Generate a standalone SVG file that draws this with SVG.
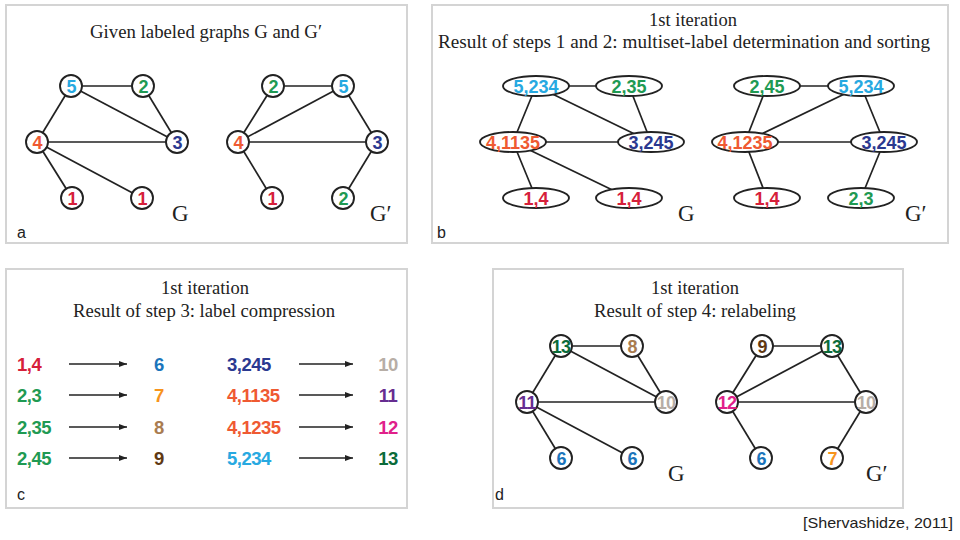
<svg xmlns="http://www.w3.org/2000/svg" width="960" height="540" viewBox="0 0 960 540">
<defs>
<marker id="ah" viewBox="0 0 8 6" refX="8" refY="3" markerWidth="8" markerHeight="6" markerUnits="userSpaceOnUse" orient="auto"><path d="M0,0 L8,3 L0,6 z" fill="#222"/></marker>
</defs>
<style>
.panel{fill:#fff;stroke:#d4d4d4;stroke-width:2}
.title{font-family:"Liberation Serif","Times New Roman",serif;font-size:18.5px;fill:#222;text-anchor:middle}
.gl{font-family:"Liberation Serif","Times New Roman",serif;font-size:23px;fill:#222}
.pl{font-family:"Liberation Sans",Arial,sans-serif;font-size:16px;fill:#222}
.edge{stroke:#222;stroke-width:1.7;fill:none}
.node circle,.node ellipse{fill:#fff;stroke:#222;stroke-width:1.9}
.lbl{font-family:"Liberation Sans",Arial,sans-serif;font-weight:bold;font-size:18px;text-anchor:middle;letter-spacing:-0.8px}
.elb{font-family:"Liberation Sans",Arial,sans-serif;font-weight:bold;font-size:18px;text-anchor:middle;letter-spacing:0px}
.row{font-family:"Liberation Sans",Arial,sans-serif;font-weight:bold;font-size:18.5px;letter-spacing:-0.5px}
.arr{stroke:#222;stroke-width:1.4;marker-end:url(#ah)}
.k1{fill:#d6203a}.k2{fill:#1f9a53}.k3{fill:#2b3990}.k4{fill:#ef5a32}.k5{fill:#27a9e1}
.k6{fill:#1b75bb}.k7{fill:#f7941d}.k8{fill:#a97c50}.k9{fill:#603913}.k10{fill:#b7aea6}
.k11{fill:#662d91}.k12{fill:#e0218a}.k13{fill:#0b6b3a}
</style>
<rect x="0" y="0" width="960" height="540" fill="#fff"/>
<rect class="panel" x="6" y="5" width="401" height="238"/>
<rect class="panel" x="432" y="5" width="516" height="238"/>
<rect class="panel" x="6" y="269" width="401" height="239"/>
<rect class="panel" x="493" y="269" width="410" height="239"/>

<!-- Panel a -->
<text class="title" x="206" y="38" textLength="232" lengthAdjust="spacingAndGlyphs">Given labeled graphs G and G′</text>
<g id="edges-a">
<line class="edge" x1="71" y1="86" x2="143" y2="86"/>
<line class="edge" x1="71" y1="86" x2="37" y2="142"/>
<line class="edge" x1="71" y1="86" x2="177" y2="142"/>
<line class="edge" x1="143" y1="86" x2="177" y2="142"/>
<line class="edge" x1="37" y1="142" x2="177" y2="142"/>
<line class="edge" x1="37" y1="142" x2="72" y2="198"/>
<line class="edge" x1="37" y1="142" x2="142" y2="198"/>
<line class="edge" x1="273" y1="86" x2="343" y2="86"/>
<line class="edge" x1="273" y1="86" x2="238" y2="142"/>
<line class="edge" x1="343" y1="86" x2="238" y2="142"/>
<line class="edge" x1="343" y1="86" x2="377" y2="142"/>
<line class="edge" x1="238" y1="142" x2="377" y2="142"/>
<line class="edge" x1="238" y1="142" x2="272" y2="198"/>
<line class="edge" x1="377" y1="142" x2="343" y2="198"/>
</g>
<g id="a-G-5" class="node"><circle cx="71" cy="86" r="11"/><text class="lbl k5" x="71" y="92.5">5</text></g>
<g id="a-G-2" class="node"><circle cx="143" cy="86" r="11"/><text class="lbl k2" x="143" y="92.5">2</text></g>
<g id="a-G-4" class="node"><circle cx="37" cy="142" r="11"/><text class="lbl k4" x="37" y="148.5">4</text></g>
<g id="a-G-3" class="node"><circle cx="177" cy="142" r="11"/><text class="lbl k3" x="177" y="148.5">3</text></g>
<g id="a-G-1a" class="node"><circle cx="72" cy="198" r="11"/><text class="lbl k1" x="72" y="204.5">1</text></g>
<g id="a-G-1b" class="node"><circle cx="142" cy="198" r="11"/><text class="lbl k1" x="142" y="204.5">1</text></g>
<g id="a-H-2" class="node"><circle cx="273" cy="86" r="11"/><text class="lbl k2" x="273" y="92.5">2</text></g>
<g id="a-H-5" class="node"><circle cx="343" cy="86" r="11"/><text class="lbl k5" x="343" y="92.5">5</text></g>
<g id="a-H-4" class="node"><circle cx="238" cy="142" r="11"/><text class="lbl k4" x="238" y="148.5">4</text></g>
<g id="a-H-3" class="node"><circle cx="377" cy="142" r="11"/><text class="lbl k3" x="377" y="148.5">3</text></g>
<g id="a-H-1" class="node"><circle cx="272" cy="198" r="11"/><text class="lbl k1" x="272" y="204.5">1</text></g>
<g id="a-H-2b" class="node"><circle cx="343" cy="198" r="11"/><text class="lbl k2" x="343" y="204.5">2</text></g>
<text class="gl" x="172" y="221">G</text>
<text class="gl" x="370" y="221">G′</text>
<text class="pl" x="17" y="238">a</text>

<!-- Panel b -->
<text class="title" x="693" y="26">1st iteration</text>
<text class="title" x="684" y="48" textLength="492" lengthAdjust="spacingAndGlyphs">Result of steps 1 and 2: multiset-label determination and sorting</text>
<g id="edges-b">
<line class="edge" x1="536" y1="86" x2="629" y2="86"/>
<line class="edge" x1="536" y1="86" x2="513" y2="142"/>
<line class="edge" x1="536" y1="86" x2="651" y2="142"/>
<line class="edge" x1="629" y1="86" x2="651" y2="142"/>
<line class="edge" x1="513" y1="142" x2="651" y2="142"/>
<line class="edge" x1="513" y1="142" x2="536" y2="198"/>
<line class="edge" x1="513" y1="142" x2="629" y2="198"/>
<line class="edge" x1="767" y1="86" x2="861" y2="86"/>
<line class="edge" x1="767" y1="86" x2="745" y2="142"/>
<line class="edge" x1="861" y1="86" x2="745" y2="142"/>
<line class="edge" x1="861" y1="86" x2="884" y2="142"/>
<line class="edge" x1="745" y1="142" x2="884" y2="142"/>
<line class="edge" x1="745" y1="142" x2="767" y2="198"/>
<line class="edge" x1="884" y1="142" x2="861" y2="198"/>
</g>
<g id="b-G-5" class="node"><ellipse cx="536" cy="86" rx="33" ry="10"/><text class="elb k5" x="536" y="92.5">5,234</text></g>
<g id="b-G-2" class="node"><ellipse cx="629" cy="86" rx="33" ry="10"/><text class="elb k2" x="629" y="92.5">2,35</text></g>
<g id="b-G-4" class="node"><ellipse cx="513" cy="142" rx="33" ry="10"/><text class="elb k4" x="513" y="148.5">4,1135</text></g>
<g id="b-G-3" class="node"><ellipse cx="651" cy="142" rx="33" ry="10"/><text class="elb k3" x="651" y="148.5">3,245</text></g>
<g id="b-G-1a" class="node"><ellipse cx="536" cy="198" rx="33" ry="10"/><text class="elb k1" x="536" y="204.5">1,4</text></g>
<g id="b-G-1b" class="node"><ellipse cx="629" cy="198" rx="33" ry="10"/><text class="elb k1" x="629" y="204.5">1,4</text></g>
<g id="b-H-2" class="node"><ellipse cx="767" cy="86" rx="33" ry="10"/><text class="elb k2" x="767" y="92.5">2,45</text></g>
<g id="b-H-5" class="node"><ellipse cx="861" cy="86" rx="33" ry="10"/><text class="elb k5" x="861" y="92.5">5,234</text></g>
<g id="b-H-4" class="node"><ellipse cx="745" cy="142" rx="33" ry="10"/><text class="elb k4" x="745" y="148.5">4,1235</text></g>
<g id="b-H-3" class="node"><ellipse cx="884" cy="142" rx="33" ry="10"/><text class="elb k3" x="884" y="148.5">3,245</text></g>
<g id="b-H-1" class="node"><ellipse cx="767" cy="198" rx="33" ry="10"/><text class="elb k1" x="767" y="204.5">1,4</text></g>
<g id="b-H-2b" class="node"><ellipse cx="861" cy="198" rx="33" ry="10"/><text class="elb k2" x="861" y="204.5">2,3</text></g>
<text class="gl" x="678" y="221">G</text>
<text class="gl" x="905" y="221">G′</text>
<text class="pl" x="437" y="238">b</text>

<!-- Panel c -->
<text class="title" x="205" y="294">1st iteration</text>
<text class="title" x="204" y="317" textLength="262" lengthAdjust="spacingAndGlyphs">Result of step 3: label compression</text>
<g id="edges-c">
<line class="arr" x1="69" y1="364" x2="127" y2="364"/>
<line class="arr" x1="69" y1="395" x2="127" y2="395"/>
<line class="arr" x1="69" y1="427" x2="127" y2="427"/>
<line class="arr" x1="69" y1="458" x2="127" y2="458"/>
<line class="arr" x1="299" y1="364" x2="353" y2="364"/>
<line class="arr" x1="299" y1="395" x2="353" y2="395"/>
<line class="arr" x1="299" y1="427" x2="353" y2="427"/>
<line class="arr" x1="299" y1="458" x2="353" y2="458"/>
</g>
<g id="c-left">
<text class="row k1" x="17" y="370.5">1,4</text>
<text class="row k2" x="17" y="401.5">2,3</text>
<text class="row k2" x="17" y="433.5">2,35</text>
<text class="row k2" x="17" y="464.5">2,45</text>
<text class="row k6" x="159" y="370.5" text-anchor="middle">6</text>
<text class="row k7" x="159" y="401.5" text-anchor="middle">7</text>
<text class="row k8" x="159" y="433.5" text-anchor="middle">8</text>
<text class="row k9" x="159" y="464.5" text-anchor="middle">9</text>
</g>
<g id="c-right">
<text class="row k3" x="227" y="370.5">3,245</text>
<text class="row k4" x="227" y="401.5">4,1135</text>
<text class="row k4" x="227" y="433.5">4,1235</text>
<text class="row k5" x="227" y="464.5">5,234</text>
<text class="row k10" x="388" y="370.5" text-anchor="middle">10</text>
<text class="row k11" x="388" y="401.5" text-anchor="middle">11</text>
<text class="row k12" x="388" y="433.5" text-anchor="middle">12</text>
<text class="row k13" x="388" y="464.5" text-anchor="middle">13</text>
</g>
<text class="pl" x="17" y="500">c</text>

<!-- Panel d -->
<text class="title" x="695" y="294">1st iteration</text>
<text class="title" x="695" y="317" textLength="202" lengthAdjust="spacingAndGlyphs">Result of step 4: relabeling</text>
<g id="edges-d">
<line class="edge" x1="561" y1="346" x2="632" y2="346"/>
<line class="edge" x1="561" y1="346" x2="527" y2="402"/>
<line class="edge" x1="561" y1="346" x2="666" y2="402"/>
<line class="edge" x1="632" y1="346" x2="666" y2="402"/>
<line class="edge" x1="527" y1="402" x2="666" y2="402"/>
<line class="edge" x1="527" y1="402" x2="561" y2="458"/>
<line class="edge" x1="527" y1="402" x2="632" y2="458"/>
<line class="edge" x1="762" y1="346" x2="832" y2="346"/>
<line class="edge" x1="762" y1="346" x2="727" y2="402"/>
<line class="edge" x1="832" y1="346" x2="727" y2="402"/>
<line class="edge" x1="832" y1="346" x2="866" y2="402"/>
<line class="edge" x1="727" y1="402" x2="866" y2="402"/>
<line class="edge" x1="727" y1="402" x2="761" y2="458"/>
<line class="edge" x1="866" y1="402" x2="832" y2="458"/>
</g>
<g id="d-G-13" class="node"><circle cx="561" cy="346" r="11"/><text class="lbl k13" x="561" y="352.5">13</text></g>
<g id="d-G-8" class="node"><circle cx="632" cy="346" r="11"/><text class="lbl k8" x="632" y="352.5">8</text></g>
<g id="d-G-11" class="node"><circle cx="527" cy="402" r="11"/><text class="lbl k11" x="527" y="408.5">11</text></g>
<g id="d-G-10" class="node"><circle cx="666" cy="402" r="11"/><text class="lbl k10" x="666" y="408.5">10</text></g>
<g id="d-G-6a" class="node"><circle cx="561" cy="458" r="11"/><text class="lbl k6" x="561" y="464.5">6</text></g>
<g id="d-G-6b" class="node"><circle cx="632" cy="458" r="11"/><text class="lbl k6" x="632" y="464.5">6</text></g>
<g id="d-H-9" class="node"><circle cx="762" cy="346" r="11"/><text class="lbl k9" x="762" y="352.5">9</text></g>
<g id="d-H-13" class="node"><circle cx="832" cy="346" r="11"/><text class="lbl k13" x="832" y="352.5">13</text></g>
<g id="d-H-12" class="node"><circle cx="727" cy="402" r="11"/><text class="lbl k12" x="727" y="408.5">12</text></g>
<g id="d-H-10" class="node"><circle cx="866" cy="402" r="11"/><text class="lbl k10" x="866" y="408.5">10</text></g>
<g id="d-H-6" class="node"><circle cx="761" cy="458" r="11"/><text class="lbl k6" x="761" y="464.5">6</text></g>
<g id="d-H-7" class="node"><circle cx="832" cy="458" r="11"/><text class="lbl k7" x="832" y="464.5">7</text></g>
<text class="gl" x="668" y="481">G</text>
<text class="gl" x="866" y="481">G′</text>
<text class="pl" x="495" y="500">d</text>

<text x="803" y="528" font-family="'Liberation Sans',Arial,sans-serif" font-size="15" fill="#222" textLength="150" lengthAdjust="spacingAndGlyphs">[Shervashidze, 2011]</text>
</svg>
